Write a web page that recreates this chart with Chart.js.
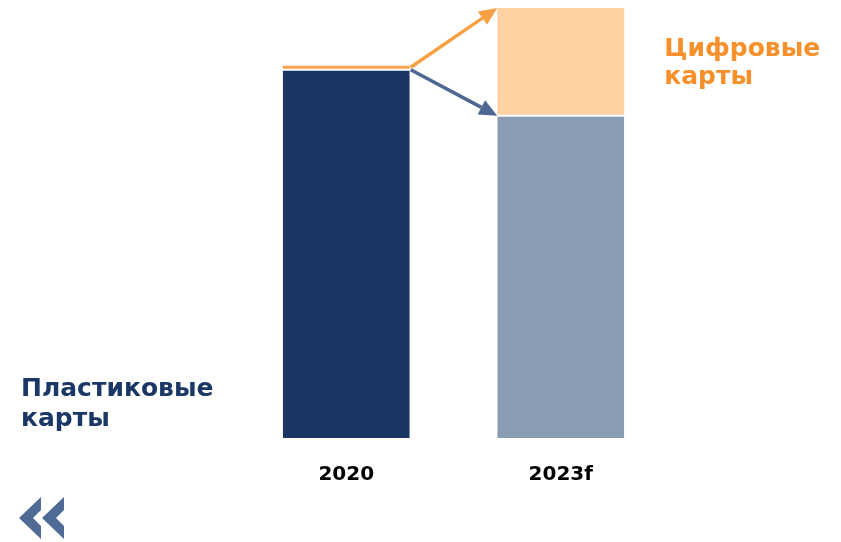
<!DOCTYPE html>
<html>
<head>
<meta charset="utf-8">
<script src="https://cdn.jsdelivr.net/npm/chart.js@4/dist/chart.umd.min.js"></script>
<style>
  html, body { margin: 0; padding: 0; background: #fff; }
  #wrap { width: 841px; height: 542px; position: relative; }
</style>
</head>
<body>
<div id="wrap"><canvas id="grafico"></canvas></div>
<script>
// данные
const anos = ["2020", "2023f"];
const plasticas = [99.2, 86.8];
const digitais = [0.8, 28.7];
const rotuloDigital = ["Цифровые", "карты"];
const rotuloPlastico = ["Пластиковые", "карты"];

const fonte = "'DejaVu Sans', Verdana, sans-serif";
const totalMax = Math.max(...plasticas.map((v, i) => v + digitais[i]));

// setas entre as barras + textos laterais
const extras = {
  id: "extras",
  afterDatasetsDraw(chart) {
    const ctx = chart.ctx;
    const p = chart.getDatasetMeta(0).data;
    const d = chart.getDatasetMeta(1).data;

    const seta = (x1, y1, x2, y2, cor) => {
      const ang = Math.atan2(y2 - y1, x2 - x1);
      const cab = 18, larg = 8;
      const bx = x2 - cab * Math.cos(ang), by = y2 - cab * Math.sin(ang);
      ctx.save();
      ctx.strokeStyle = cor;
      ctx.fillStyle = cor;
      ctx.lineWidth = 3.5;
      ctx.beginPath();
      ctx.moveTo(x1, y1);
      ctx.lineTo(bx, by);
      ctx.stroke();
      ctx.beginPath();
      ctx.moveTo(x2, y2);
      ctx.lineTo(bx + larg * Math.sin(ang), by - larg * Math.cos(ang));
      ctx.lineTo(bx - larg * Math.sin(ang), by + larg * Math.cos(ang));
      ctx.closePath();
      ctx.fill();
      ctx.restore();
    };

    const dir0 = p[0].x + p[0].width / 2;
    const esq1 = p[1].x - p[1].width / 2;
    seta(dir0 + 1, d[0].y + 1.5, esq1, d[1].y, "#f7a044");
    seta(dir0 + 1, p[0].y + 1, esq1, p[1].y + 1, "#4d6892");

    ctx.save();
    ctx.font = "bold 25px " + fonte;
    ctx.textBaseline = "alphabetic";
    ctx.textAlign = "left";
    const dir1 = p[1].x + p[1].width / 2;
    ctx.fillStyle = "#f5902a";
    ctx.fillText(rotuloDigital[0], dir1 + 40, 56);
    ctx.fillText(rotuloDigital[1], dir1 + 40, 84);
    ctx.fillStyle = "#1b3766";
    ctx.fillText(rotuloPlastico[0], 21, 396);
    ctx.fillText(rotuloPlastico[1], 21, 426);

    // «
    ctx.fillStyle = "#4f6a94";
    [19, 42].forEach(x0 => {
      ctx.beginPath();
      ctx.moveTo(x0, 518);
      ctx.lineTo(x0 + 22, 497);
      ctx.lineTo(x0 + 22, 510);
      ctx.lineTo(x0 + 14, 518);
      ctx.lineTo(x0 + 22, 526);
      ctx.lineTo(x0 + 22, 539);
      ctx.closePath();
      ctx.fill();
    });
    ctx.restore();
  }
};

new Chart(document.getElementById("grafico").getContext("2d"), {
  type: "bar",
  data: {
    labels: anos,
    datasets: [
      {
        label: "Пластиковые карты",
        data: plasticas,
        backgroundColor: ["#183563", "#8a9cb4"],
        borderColor: "#ffffff",
        borderWidth: { top: 2, left: 0, right: 0, bottom: 0 },
        borderSkipped: false,
        stack: "s",
      },
      {
        label: "Цифровые карты",
        data: digitais,
        backgroundColor: ["#f9a24b", "#fed1a3"],
        borderWidth: 0,
        stack: "s",
      },
    ],
  },
  options: {
    responsive: true,
    maintainAspectRatio: false,
    animation: false,
    layout: { padding: { left: 239, right: 173, top: 8, bottom: 30 } },
    datasets: { bar: { categoryPercentage: 0.592, barPercentage: 1 } },
    plugins: {
      legend: { display: false },
      tooltip: { enabled: false },
    },
    scales: {
      x: {
        stacked: true,
        grid: { display: false, drawTicks: false },
        border: { display: false },
        ticks: {
          color: "#000",
          padding: 25,
          font: { family: fonte, size: 20, weight: "bold" },
        },
      },
      y: {
        stacked: true,
        display: false,
        min: 0,
        max: totalMax,
      },
    },
  },
  plugins: [extras],
});
</script>
</body>
</html>
